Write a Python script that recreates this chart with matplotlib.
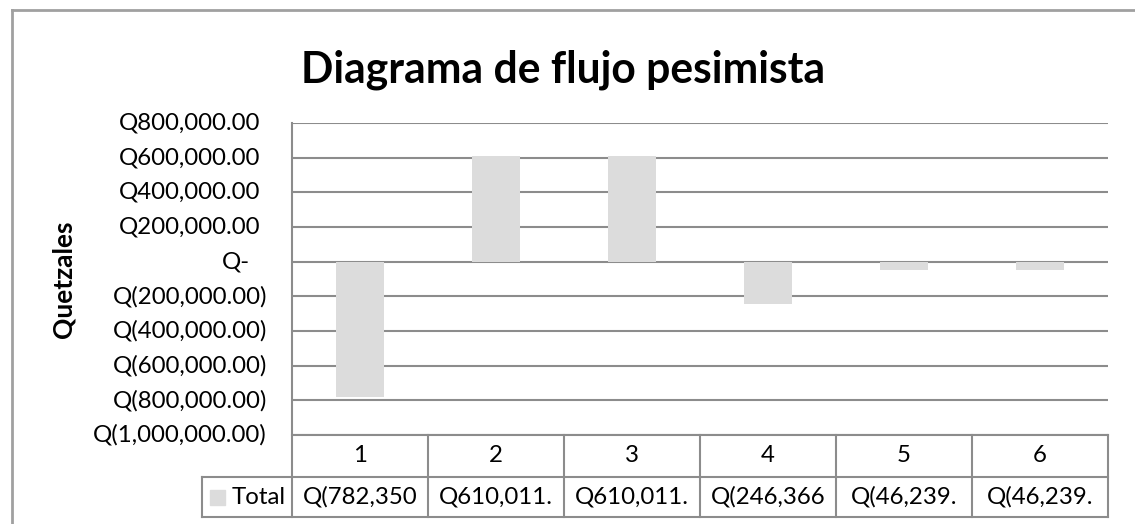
import matplotlib
matplotlib.use("Agg")
import matplotlib.pyplot as plt
from matplotlib.transforms import blended_transform_factory, ScaledTranslation
from matplotlib.patches import Rectangle
from matplotlib.lines import Line2D

plt.rcParams['font.family'] = ['Lato', 'DejaVu Sans']

# ---- data ----
categories = ["1", "2", "3", "4", "5", "6"]
totals = [-782350, 610011, 610011, -246366, -46239, -46239]
table_texts = ["Q(782,350", "Q610,011.", "Q610,011.", "Q(246,366", "Q(46,239.", "Q(46,239."]
yticks = [800000, 600000, 400000, 200000, 0, -200000, -400000, -600000, -800000, -1000000]
series_name = "Total"
title = "Diagrama de flujo pesimista"
ylabel = "Quetzales"

W, H = 1135, 524
DPI = 100
fig = plt.figure(figsize=(W / DPI, H / DPI), dpi=DPI)

def fx(px):
    return px / W

def fy(py):
    return 1 - py / H

left, right, top, bottom = 292, 1108, 123, 435
ax = fig.add_axes([fx(left), fy(bottom), fx(right) - fx(left), fy(top) - fy(bottom)])

bar_color = "#DCDCDC"
grid_color = "#8C8C8C"
x = list(range(len(categories)))
ax.bar(x, totals, width=0.35, color=bar_color, zorder=2)
ax.set_xlim(-0.5, len(categories) - 0.5)
ax.set_ylim(min(yticks), max(yticks))

for s in ax.spines.values():
    s.set_visible(False)
ax.set_xticks([])
ax.set_yticks(yticks)
ax.tick_params(axis='y', length=0, labelleft=False)
ax.yaxis.grid(True, color=grid_color, linewidth=1.5, zorder=1)
ax.set_axisbelow(True)


def fmt(v):
    if v == 0:
        return "Q-"
    if v > 0:
        return "Q{:,.2f}".format(v)
    return "Q({:,.2f})".format(-v)

tfs = 17.3
ytrans = ax.get_yaxis_transform()
for v in yticks:
    if v > 0:
        off = 32
    elif v == 0:
        off = 42
    else:
        off = 25
    tr = ytrans + ScaledTranslation(-off / DPI, 0, fig.dpi_scale_trans)
    ax.text(0, v, fmt(v), transform=tr, ha='right', va='center', fontsize=tfs, color='black')

# left axis line extending through table
ax_h = bottom - top
row1 = -(477 - bottom) / ax_h
row2 = -(517 - bottom) / ax_h
xt = blended_transform_factory(ax.transData, ax.transAxes)
lw_t = 1.5
ax.add_line(Line2D([-0.5, -0.5], [1, row2], transform=xt, color=grid_color, lw=lw_t, clip_on=False, zorder=3))
# table lines
legend_left = -0.5 + (202 - left) / ((right - left) / len(categories))
ax.add_line(Line2D([-0.5, len(categories) - 0.5], [0, 0], transform=xt, color=grid_color, lw=lw_t, clip_on=False))
ax.add_line(Line2D([legend_left, len(categories) - 0.5], [row1, row1], transform=xt, color=grid_color, lw=lw_t, clip_on=False))
ax.add_line(Line2D([legend_left, len(categories) - 0.5], [row2, row2], transform=xt, color=grid_color, lw=lw_t, clip_on=False))
ax.add_line(Line2D([legend_left, legend_left], [row1, row2], transform=xt, color=grid_color, lw=lw_t, clip_on=False))
for i in range(len(categories)):
    xb = i + 0.5
    ax.add_line(Line2D([xb, xb], [0, row2], transform=xt, color=grid_color, lw=lw_t, clip_on=False))
for i, (c, t) in enumerate(zip(categories, table_texts)):
    ax.text(i, row1 / 2, c, transform=xt, ha='center', va='center', fontsize=tfs, clip_on=False)
    ax.text(i, (row1 + row2) / 2, t, transform=xt, ha='center', va='center', fontsize=tfs, clip_on=False)

# legend key in table
fig.patches.append(Rectangle((fx(210), fy(505)), fx(225) - fx(210), fy(490) - fy(505),
                             transform=fig.transFigure, color=bar_color))
fig.text(fx(232), fy(497), series_name, ha='left', va='center', fontsize=tfs)

# title and y label
fig.text(fx(563), fy(70), title, ha='center', va='center', fontsize=30.7, fontweight='bold')
fig.text(fx(63), fy(279), ylabel, ha='center', va='center', rotation=90, fontsize=19, fontweight='bold')

# outer border
border_color = "#A0A0A0"
fig.add_artist(Line2D([fx(12), 1], [fy(10), fy(10)], transform=fig.transFigure, color=border_color, lw=2))
fig.add_artist(Line2D([fx(12), fx(12)], [fy(10), 0], transform=fig.transFigure, color=border_color, lw=2))

fig.savefig("out.png", dpi=DPI)
